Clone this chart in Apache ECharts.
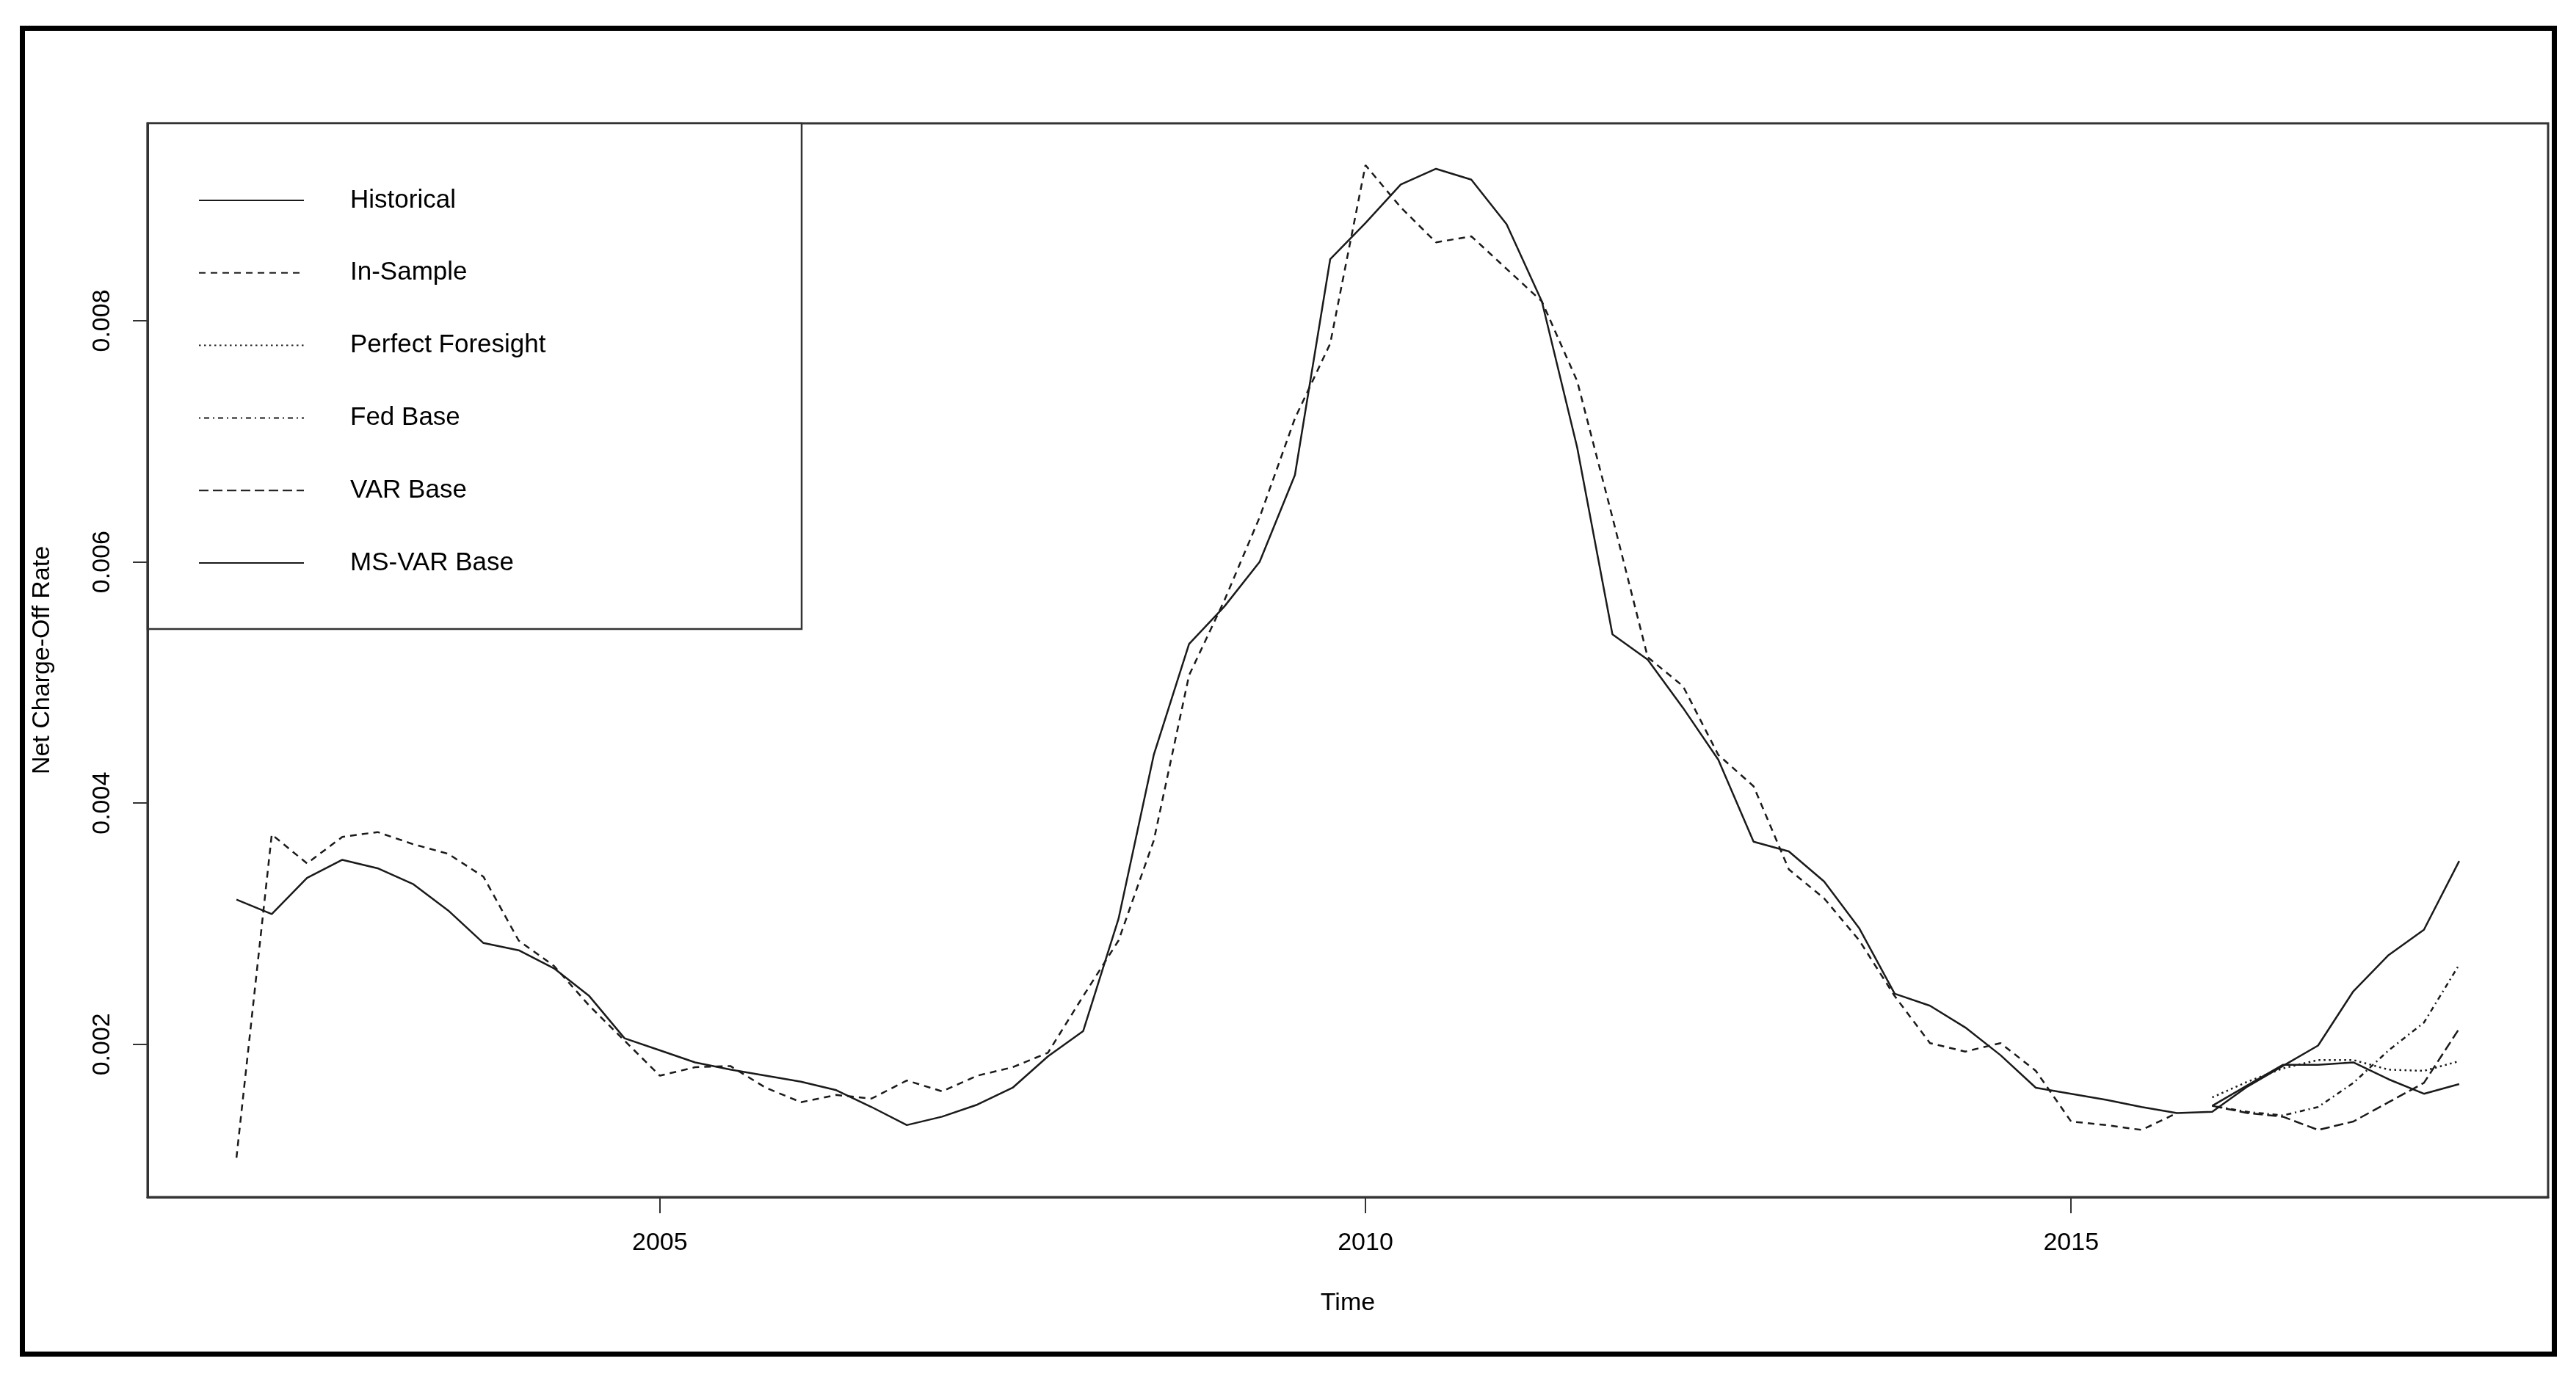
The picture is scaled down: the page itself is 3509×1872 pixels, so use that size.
<!DOCTYPE html>
<html>
<head>
<meta charset="utf-8">
<script src="https://cdn.jsdelivr.net/npm/echarts@6/dist/echarts.min.js"></script>
<style>
html,body{margin:0;padding:0;background:#fff;}
#chart{width:3509px;height:1872px;}
</style>
</head>
<body>
<div id="chart"></div>
<script>
// ---- data (quarterly, starting 2002 Q1) ----
const startYear = 2002;
const forecastStartIndex = 56; // 2016 Q1
const seriesNames = ['Historical', 'In-Sample', 'Perfect Foresight', 'Fed Base', 'VAR Base', 'MS-VAR Base'];
const xTicks = [2005, 2010, 2015];
const yTicks = [0.002, 0.004, 0.006, 0.008];

const historical = [
  0.00320,0.00308,0.00338,0.00353,0.00346,0.00333,0.00311,0.00284,
  0.00278,0.00263,0.00240,0.00205,0.00195,0.00185,0.00179,0.00174,
  0.00169,0.00162,0.00148,0.00133,0.00140,0.00150,0.00164,0.00190,
  0.00211,0.00304,0.00440,0.00532,0.00563,0.00600,0.00672,0.00851,
  0.00881,0.00913,0.00926,0.00917,0.00880,0.00816,0.00695,0.00540,
  0.00519,0.00479,0.00436,0.00368,0.00360,0.00335,0.00296,0.00242,
  0.00232,0.00214,0.00191,0.00164,0.00159,0.00154,0.00148,0.00143,
  0.00144,0.00165,0.00182,0.00199,0.00244,0.00274,0.00295,0.00352
];
const inSample = [
  0.00106,0.00374,0.00350,0.00372,0.00376,0.00366,0.00358,0.00339,
  0.00286,0.00265,0.00232,0.00203,0.00174,0.00181,0.00182,0.00164,
  0.00152,0.00158,0.00155,0.00170,0.00161,0.00174,0.00181,0.00193,
  0.00240,0.00286,0.00369,0.00506,0.00568,0.00637,0.00719,0.00781,
  0.00929,0.00894,0.00865,0.00870,0.00843,0.00816,0.00750,0.00637,
  0.00521,0.00497,0.00440,0.00414,0.00345,0.00321,0.00286,0.00240,
  0.00201,0.00194,0.00201,0.00178,0.00136,0.00133,0.00129,0.00143
];
const perfectForesight = [0.00156,0.00169,0.00180,0.00187,0.00187,0.00179,0.00178,0.00186];
const fedBase          = [0.00149,0.00144,0.00141,0.00148,0.00168,0.00195,0.00218,0.00266];
const varBase          = [0.00149,0.00143,0.00140,0.00129,0.00136,0.00152,0.00168,0.00213];
const msvarBase        = [0.00149,0.00166,0.00183,0.00183,0.00185,0.00171,0.00159,0.00167];

// ---- helpers ----
function toPairs(values, offset) {
  return values.map((v, i) => [startYear + (offset + i) / 4, v]);
}
const FONT = 'Liberation Sans, Arial, Helvetica, sans-serif';
const INK = '#1a1a1a';

function lineSeries(name, values, offset, dash) {
  return {
    name: name,
    type: 'line',
    data: toPairs(values, offset),
    symbol: 'none',
    silent: true,
    animation: false,
    lineStyle: { color: INK, width: 2.5, type: dash, cap: 'butt' },
    itemStyle: { color: INK }
  };
}

const chart = echarts.init(document.getElementById('chart'), null, { renderer: 'canvas' });

const option = {
  backgroundColor: '#fff',
  animation: false,
  grid: {
    left: 201, top: 168, width: 3270, height: 1463,
    show: true, borderColor: '#333', borderWidth: 3, backgroundColor: 'transparent'
  },
  xAxis: {
    type: 'value',
    min: 2001.37, max: 2018.38,
    name: 'Time', nameLocation: 'middle', nameGap: 128,
    nameTextStyle: { fontFamily: FONT, fontSize: 34, color: '#000' },
    axisLine: { show: true, lineStyle: { color: '#333', width: 3 } },
    axisTick: { show: true, inside: false, length: 22, customValues: xTicks, lineStyle: { color: '#333', width: 2 } },
    axisLabel: { show: true, margin: 46, customValues: xTicks, fontFamily: FONT, fontSize: 34, color: '#000',
      formatter: v => String(v) },
    splitLine: { show: false }
  },
  yAxis: {
    type: 'value',
    min: 0.000733, max: 0.009637,
    name: 'Net Charge-Off Rate', nameLocation: 'middle', nameGap: 126, nameRotate: 90,
    nameTextStyle: { fontFamily: FONT, fontSize: 34, color: '#000' },
    axisLine: { show: true, lineStyle: { color: '#333', width: 3 } },
    axisTick: { show: true, inside: false, length: 20, customValues: yTicks, lineStyle: { color: '#333', width: 2 } },
    axisLabel: { show: true, rotate: 90, margin: 44, customValues: yTicks, fontFamily: FONT, fontSize: 34, color: '#000',
      formatter: v => v.toFixed(3) },
    splitLine: { show: false }
  },
  legend: {
    show: true,
    orient: 'vertical',
    left: 265, top: 248,
    itemWidth: 143, itemHeight: 40, itemGap: 58.8,
    selectedMode: false,
    data: seriesNames,
    itemStyle: { opacity: 0, borderWidth: 0 },
    textStyle: { fontFamily: FONT, fontSize: 35, color: '#000', lineHeight: 40, padding: [0, 0, 0, 58] }
  },
  graphic: [
    {
      type: 'rect', z: 0, silent: true,
      shape: { x: 201, y: 168, width: 891, height: 689 },
      style: { fill: '#fff', stroke: '#333', lineWidth: 2.5 }
    },
    {
      type: 'rect', z: 100, silent: true,
      shape: { x: 30.5, y: 38.5, width: 3449, height: 1806.5 },
      style: { fill: 'transparent', stroke: '#000', lineWidth: 7 }
    }
  ],
  series: [
    lineSeries('Historical', historical, 0, 'solid'),
    lineSeries('In-Sample', inSample, 0, [9, 7]),
    lineSeries('Perfect Foresight', perfectForesight, forecastStartIndex, [2.5, 4.5]),
    lineSeries('Fed Base', fedBase, forecastStartIndex, [2, 5, 7, 5]),
    lineSeries('VAR Base', varBase, forecastStartIndex, [13, 6]),
    lineSeries('MS-VAR Base', msvarBase, forecastStartIndex, 'solid')
  ]
};
chart.setOption(option);
</script>
</body>
</html>
